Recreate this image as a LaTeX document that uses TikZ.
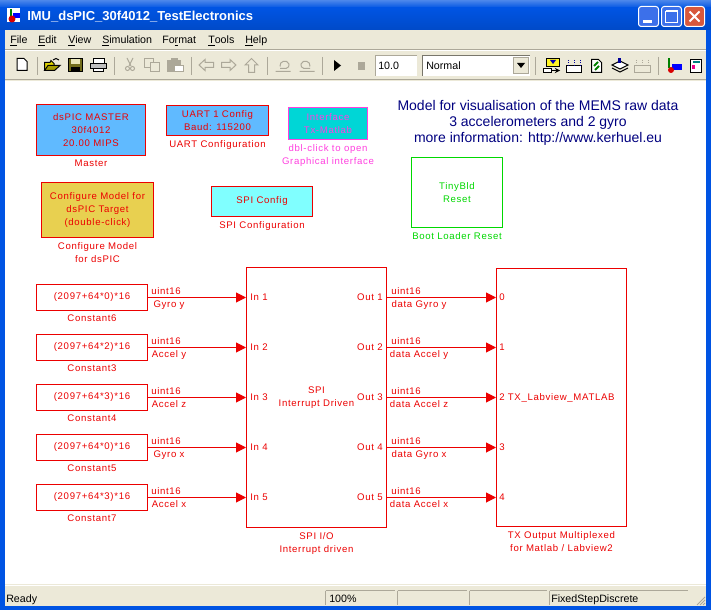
\documentclass[tikz,border=0pt]{standalone}
\usepackage{fontspec}
\usepackage{tikz}
\usetikzlibrary{positioning, arrows.meta}
\setmainfont{Liberation Sans}
\newfontfamily\blockfont[LetterSpace=7]{Liberation Sans}

\definecolor{simred}{HTML}{EC0000}
\definecolor{simgreen}{HTML}{00D800}
\definecolor{simpink}{HTML}{FF40E0}
\definecolor{simnavy}{HTML}{000080}
\definecolor{masterblue}{HTML}{60BAFF}
\definecolor{ifaceteal}{HTML}{00D6D6}
\definecolor{configgold}{HTML}{E8D050}
\definecolor{spicyan}{HTML}{80FFFF}
\definecolor{xpface}{HTML}{ECE9D8}
\definecolor{xpgray}{HTML}{ACA899}
\definecolor{xpblue}{HTML}{0054E3}
\definecolor{xpbutton}{HTML}{3C70EA}
\definecolor{xpclose}{HTML}{D8583C}

\tikzset{
  pxsize/.style 2 args={minimum width=#1*0.75pt, minimum height=#2*0.75pt},
  blockbox/.style={draw=simred, line width=0.75pt, inner sep=0pt, text=simred, align=center,
    font=\blockfont\fontsize{7.2}{9.75}\selectfont},
  blocklabel/.style={inner sep=0pt, text=simred, align=center,
    font=\blockfont\fontsize{7.2}{9.75}\selectfont},
  sigtext/.style={inner sep=0pt, text=simred, text height=6.2pt, text depth=1.5pt,
    font=\blockfont\fontsize{7.2}{9.75}\selectfont},
  wire/.style={draw=simred, line width=0.75pt, -{Triangle[length=7.5pt,width=7.5pt]}},
  uitext/.style={inner sep=0pt, anchor=west, text height=6pt, text depth=1.8pt,
    font=\fontsize{8}{10}\selectfont},
  winbtn/.style={draw=white, line width=0.75pt, rounded corners=2pt},
  tbsep/.style={line width=0.75pt, xpgray},
  officon/.style={draw=xpgray, line width=0.75pt, fill=xpface},
  onicon/.style={draw=black, line width=0.75pt},
  panel/.style={draw=xpgray, line width=0.75pt, fill=xpface}
}

\begin{document}
\begin{tikzpicture}[x=0.75pt, y=-0.75pt, line cap=butt, line join=miter]
  \useasboundingbox (0,0) rectangle (711,610);
  % window frame
  \fill[xpblue] (0,0) rectangle (711,610);
  \shade[top color=xpblue!70!white, bottom color=xpblue] (0,0) rectangle (711,8);
  \shade[top color=xpblue, bottom color=xpblue!88!black] (0,8) rectangle (711,30);
  \fill[xpface] (5,30) rectangle (706,606);
  \fill[white] (5,81) rectangle (706,584);
  \draw[line width=0.75pt, xpgray] (5,49.5) -- (706,49.5);
  \draw[line width=0.75pt, white] (5,50.5) -- (706,50.5);
  \draw[line width=0.75pt, xpgray] (5,79.5) -- (706,79.5);
  \draw[line width=0.75pt, white] (5,585.5) -- (706,585.5);

  % title bar
  \fill[white] (7,8) rectangle (20,22);
  \fill[green!50!black] (10,9) rectangle (12,19);
  \fill[blue] (13,13) rectangle (20,18);
  \fill[red!85!black] (12,19) circle[radius=3.5];
  \node[inner sep=0pt, anchor=west, text=white, font=\bfseries\fontsize{9.75}{12}\selectfont] (wintitle) at (27,17) {IMU\_dsPIC\_30f4012\_TestElectronics};
  \draw[winbtn, fill=xpbutton] (638.5,6.5) rectangle (658.5,26.5);
  \fill[white] (643,20) rectangle (652,23);
  \draw[winbtn, fill=xpbutton] (661.5,6.5) rectangle (681.5,26.5);
  \draw[white, line width=0.75pt] (665.5,11.5) rectangle (677.5,22.5);
  \draw[white, line width=1.5pt] (665.5,11.5) -- (677.5,11.5);
  \draw[winbtn, fill=xpclose] (684.5,6.5) rectangle (704.5,26.5);
  \draw[white, line width=1.5pt] (689.5,11.5) -- (699.5,21.5) (699.5,11.5) -- (689.5,21.5);

  % menu bar
  \foreach \mx/\mtext in {10/\underline{F}ile, 38/\underline{E}dit, 68/\underline{V}iew,
      102/\underline{S}imulation, 162/Fo\underline{r}mat, 208/\underline{T}ools, 245/\underline{H}elp}
    \node[uitext] (menu\mx) at (\mx,40.5) {\mtext};

  % toolbar separators
  \foreach \sx in {37,114,191,267,322,535,658}
    \draw[tbsep] (\sx.5,57) -- (\sx.5,75);

  % file icons
  \draw[onicon, fill=white] (17,58.5) -- (24,58.5) -- (27,61.5) -- (27,70.5) -- (17,70.5) -- cycle;
  \draw[onicon, fill=yellow!70!olive] (44.5,70.5) -- (44.5,62.5) -- (50,62.5) -- (51,60.5) -- (54,63.5) -- (54,70.5) -- cycle;
  \draw[onicon, fill=olive!80!yellow] (44.5,70.5) -- (48,65.5) -- (60,65.5) -- (54.5,70.5) -- cycle;
  \draw[line width=0.75pt] (53,60) -- (56,58.5) -- (59,60);
  \draw[onicon, fill=olive!75!black] (68.5,58.5) rectangle (82.5,71.5);
  \fill[olive!20!white] (71,59) rectangle (80,64);
  \fill[black] (71,67) rectangle (80,71);
  \draw[onicon, fill=white] (93.5,58.5) rectangle (104.5,63.5);
  \draw[onicon, fill=gray!50] (90.5,63.5) -- (106.5,63.5) -- (106.5,68.5) -- (90.5,68.5) -- cycle;
  \draw[onicon, fill=white] (93.5,68.5) rectangle (103.5,71.5);

  % edit icons, greyed out
  \draw[officon] (127,58) -- (131,66) (133,58) -- (129,66);
  \draw[officon] (127.5,68.5) circle[radius=2] (132.5,68.5) circle[radius=2];
  \draw[officon] (144.5,58.5) rectangle (153.5,67.5);
  \draw[officon] (150.5,62.5) rectangle (159.5,71.5);
  \draw[officon, fill=xpgray] (167.5,60.5) rectangle (180.5,71.5);
  \draw[officon, fill=white] (174.5,65.5) rectangle (183.5,71.5);
  \draw[officon, fill=xpgray] (171,58.5) rectangle (177,61.5);
  % navigation icons
  \draw[officon] (199,65) -- (205,59.5) -- (205,62.5) -- (213.5,62.5) -- (213.5,67.5) -- (205,67.5) -- (205,70.5) -- cycle;
  \draw[officon] (236,65) -- (230,59.5) -- (230,62.5) -- (221.5,62.5) -- (221.5,67.5) -- (230,67.5) -- (230,70.5) -- cycle;
  \draw[officon] (251.5,58.5) -- (258,65) -- (254.5,65) -- (254.5,72.5) -- (248.5,72.5) -- (248.5,65) -- (245,65) -- cycle;
  \draw[officon] (275.5,71.5) -- (290.5,71.5) (280,66.5) .. controls (279,61) and (287,59) .. (289,64) .. controls (290,66) and (288,68) .. (286,68.5) -- (280,68.5);
  \draw[officon] (299.5,71.5) -- (314.5,71.5) (310,66.5) .. controls (311,61) and (303,59) .. (301,64) .. controls (300,66) and (302,68) .. (304,68.5) -- (310,68.5);
  % run and stop
  \fill[black] (334,60) -- (341,65.5) -- (334,71) -- cycle;
  \fill[xpgray] (358,62) rectangle (365,70);

  % stop time and mode
  \fill[white] (375,55) rectangle (417,76);
  \draw[line width=0.75pt, xpgray] (375.5,76) -- (375.5,55.5) -- (417,55.5);
  \node[uitext] (stoptime) at (378,66.5) {10.0};
  \fill[white] (422,55) rectangle (530,76);
  \draw[line width=0.75pt, xpgray!70!black] (422.5,76) -- (422.5,55.5) -- (530,55.5);
  \node[uitext] (simmode) at (426,66.5) {Normal};
  \draw[panel] (513.5,57.5) rectangle (528.5,73.5);
  \fill[black] (517,63) -- (525,63) -- (521,68) -- cycle;

  % right hand icons
  \draw[onicon, fill=yellow!85!white] (546.5,58.5) rectangle (559.5,66.5);
  \fill[blue!70!black] (550,60) -- (556,60) -- (553,64) -- cycle;
  \draw[onicon, fill=white] (543.5,68.5) rectangle (551.5,72.5);
  \draw[onicon, ->, >=stealth] (552,70.5) -- (560,70.5);
  \draw[onicon, fill=white] (566.5,65.5) rectangle (581.5,72.5);
  \draw[line width=0.75pt, blue!60!black, densely dotted] (568,60) -- (568,65) (574,60) -- (574,65) (580,60) -- (580,65);
  \draw[onicon, fill=white] (591.5,59.5) -- (598.5,59.5) -- (601.5,62.5) -- (601.5,72.5) -- (591.5,72.5) -- cycle;
  \draw[line width=1.5pt, green!50!black] (598,62) -- (594,66) (599,66) -- (595,70);
  \draw[onicon, fill=white] (612,65) -- (620,61) -- (628,65) -- (620,69) -- cycle;
  \draw[onicon] (612,68) -- (620,72) -- (628,68);
  \fill[blue!60!black] (618,58) rectangle (621,63);
  \draw[officon, fill=xpface] (634.5,65.5) rectangle (650.5,72.5);
  \draw[line width=0.75pt, xpgray, densely dotted] (636,60) -- (636,65) (642,60) -- (642,65) (648,60) -- (648,65);
  \fill[green!50!black] (668,58) rectangle (670,68);
  \fill[blue] (672,64) rectangle (682,70);
  \fill[red!85!black] (671,70) circle[radius=3];
  \draw[onicon, fill=white] (690.5,59.5) rectangle (701.5,72.5);
  \fill[magenta] (692,65) rectangle (695,69);
  \fill[teal] (693,61) rectangle (700,63);

  % status bar
  \node[uitext] (statusready) at (6,599.5) {Ready};
  \foreach \pa/\pb in {325/394, 397/466, 469/546, 549/687}
    \draw[panel] (\pa.5,590.5) -- (\pa.5,605) (\pa.5,590.5) -- (\pb.5,590.5);
  \node[uitext] (statuszoom) at (329,599.5) {100\%};
  \node[uitext] (statussolver) at (551,599.5) {FixedStepDiscrete};
  \foreach \g in {0,3,6}
    \draw[line width=0.75pt, xpgray] (697+\g,605) -- (705,597+\g);

  % configuration blocks
  \node[blockbox, pxsize={109}{51}, fill=masterblue] (master) at (91,130) {dsPIC MASTER\\30f4012\\20.00 MIPS};
  \node[blocklabel, below=3pt of master] (masterlabel) {Master};
  \node[blockbox, pxsize={102}{30}, fill=masterblue] (uart) at (217.5,121) {UART 1 Config\\Baud: 115200};
  \node[blocklabel, below=3pt of uart] (uartlabel) {UART Configuration};
  \node[blockbox, pxsize={79}{32}, draw=simpink, fill=ifaceteal, text=simpink] (iface) at (328,124) {Interface\\Tx-Matlab};
  \node[blocklabel, below=3pt of iface, text=simpink] (ifacelabel) {dbl-click to open\\Graphical interface};
  \node[blockbox, pxsize={112}{55}, fill=configgold] (config) at (97.5,210) {Configure Model for\\dsPIC Target\\(double-click)};
  \node[blocklabel, below=3pt of config] (configlabel) {Configure Model\\for dsPIC};
  \node[blockbox, pxsize={101}{30}, fill=spicyan] (spicfg) at (262,201.5) {SPI Config};
  \node[blocklabel, below=3pt of spicfg] (spicfglabel) {SPI Configuration};
  \node[blockbox, pxsize={91}{70}, draw=simgreen, text=simgreen] (tiny) at (457,192.5) {TinyBld\\Reset};
  \node[blocklabel, below=3pt of tiny, text=simgreen] (tinylabel) {Boot Loader Reset};
  \node[inner sep=0pt, text=simnavy, align=center, font=\fontsize{10.5}{12}\selectfont] (note) at (538,123) {Model for visualisation of the MEMS raw data\\3 accelerometers and 2 gyro\\more information: http://www.kerhuel.eu};

  % main blocks
  \node[blockbox, pxsize={140}{260}] (spi) at (316.5,397.5) {SPI\\Interrupt Driven};
  \node[blocklabel, below=3pt of spi] (spilabel) {SPI I/O\\Interrupt driven};
  \node[blockbox, pxsize={130}{258}] (mux) at (561.5,397.5) {};
  \node[blocklabel, below=3pt of mux] (muxlabel) {TX Output Multiplexed\\for Matlab / Labview2};

  % sources, signals and ports, one row each
  \foreach \i/\k/\cname/\sname in {1/0/Constant6/Gyro y, 2/2/Constant3/Accel y, 3/3/Constant4/Accel z,
      4/0/Constant5/Gyro x, 5/3/Constant7/Accel x}{
    \pgfmathsetmacro{\ypos}{247.5+50*\i}
    \node[blockbox, pxsize={111}{26}] (const\i) at (92,\ypos) {(2097+64*\k)*16};
    \node[blocklabel, below=3pt of const\i] (constlabel\i) {\cname};
    % connectors
    \draw[wire] (const\i.east) -- (const\i.east -| spi.west);
    \draw[wire] (const\i.east -| spi.east) -- (const\i.east -| mux.west);
    % port labels
    \node[sigtext, anchor=west] (in\i) at (250,\ypos) {In \i};
    \node[sigtext, anchor=east] (out\i) at (383,\ypos) {Out \i};
    % signal labels
    \node[sigtext, anchor=west] (typea\i) at (151,\ypos-6.5) {uint16};
    \node[sigtext] (namea\i) at (169,\ypos+6.5) {\sname};
    \node[sigtext, anchor=west] (typeb\i) at (391,\ypos-6.5) {uint16};
    \node[sigtext] (nameb\i) at (419,\ypos+6.5) {data \sname};
  }
  % multiplexer ports
  \node[sigtext, anchor=west] (muxport1) at (499,297.5) {0};
  \node[sigtext, anchor=west] (muxport2) at (499,347.5) {1};
  \node[sigtext, anchor=west] (muxport3) at (499,397.5) {2 TX\_Labview\_MATLAB};
  \node[sigtext, anchor=west] (muxport4) at (499,447.5) {3};
  \node[sigtext, anchor=west] (muxport5) at (499,497.5) {4};
\end{tikzpicture}
\end{document}
